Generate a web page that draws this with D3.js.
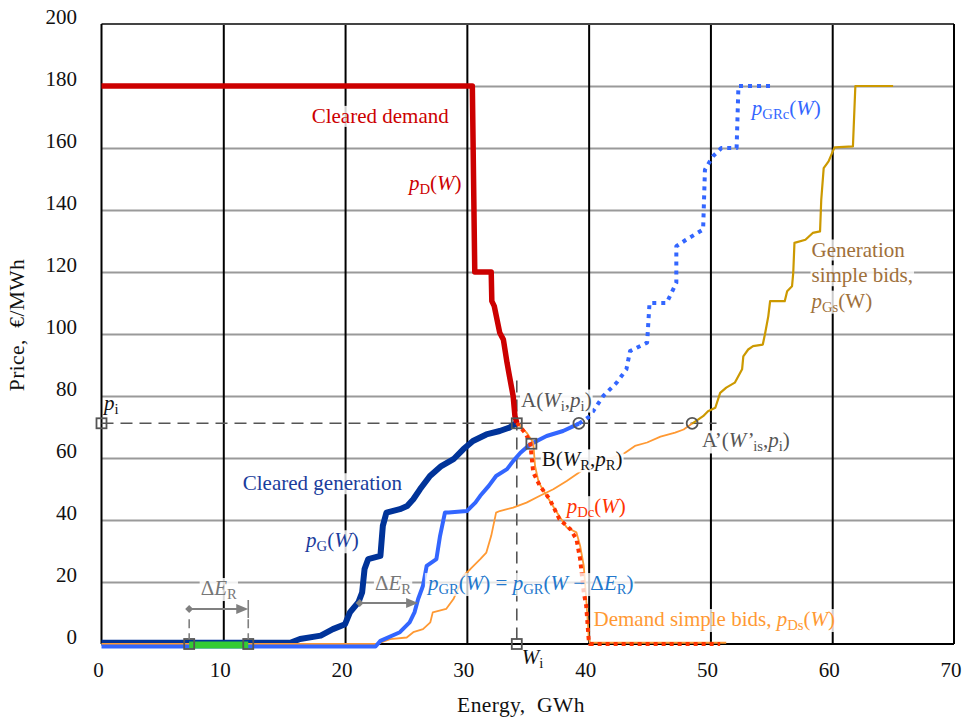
<!DOCTYPE html>
<html><head><meta charset="utf-8">
<script src="https://cdn.jsdelivr.net/npm/d3@7"></script>
<style>body{margin:0;background:#fff}svg{font-family:"Liberation Serif","Times New Roman",serif}</style>
</head><body><svg id="c" width="970" height="718"></svg>
<script>
// ---------- data ----------
const energyTicks = [0,10,20,30,40,50,60,70];
const priceTicks = [0,20,40,60,80,100,120,140,160,180,200];

// Cleared demand p_D(W)
const clearedDemand = [[0,180],[30.45,180],[30.65,120],[32.0,120],[32.05,110.6],[32.25,109],[32.7,100.4],[33.0,98.2],[33.3,90.7],[33.5,86.4],[33.8,80],[33.95,73.5],[34.1,71.4]];
// Cleared generation p_G(W)
const clearedGeneration = [[0,0.4],[15.5,0.4],[16.3,1.6],[18.0,2.7],[19.0,4.8],[20.0,6.4],[20.4,10.2],[21.1,13.5],[21.4,16.6],[21.6,24.2],[21.9,27.4],[22.9,28.4],[23.1,38.1],[23.4,42.4],[24.5,43.5],[25.1,44.5],[25.6,46.7],[26.15,49.9],[26.97,54.2],[27.9,57.4],[28.9,59.6],[29.7,62.8],[30.5,65.5],[31.6,67.6],[32.7,68.7],[33.5,69.8],[34.1,71.4]];
// Shifted generation p_GR(W)
const shiftedGeneration = [[0,-0.8],[22.5,-0.8],[22.9,1],[24.5,3.8],[25.3,7],[25.7,10.2],[26.0,14.5],[26.4,18.8],[26.7,25.2],[27.5,27.4],[27.8,34.9],[28.2,42.4],[28.5,42.4],[30.0,42.9],[30.7,45.6],[31.1,47.8],[31.8,51],[32.4,54.2],[33.3,56.4],[33.8,59],[34.4,61.7],[35.2,64.4],[36.55,67.1],[37.9,68.7],[39.2,71.1]];
// Continuation p_GRc(W)
const shiftedGenerationCont = [[39.2,71.1],[40.1,73.5],[41.2,80],[42.3,84.3],[43.1,88.6],[43.4,94.5],[44.8,97.2],[45.0,110],[46.4,110],[47.2,116.5],[47.2,128.3],[48.0,130.4],[49.4,133.7],[49.55,153],[50.2,157.3],[50.9,160],[52.15,160],[52.3,180],[55.2,180]];
// Generation simple bids p_Gs(W): part below p_i, part above
const genSimpleLow = [[0,0],[22.6,0],[23.7,1.6],[25.06,2.1],[25.6,3.8],[26.4,4.8],[27.0,7],[27.2,10.2],[28.3,11.3],[28.9,14.5],[29.4,18.8],[29.7,22],[30.3,24.2],[31.1,27.4],[31.6,29.5],[32.0,34.9],[32.4,42.4],[32.7,42.9],[33.8,44],[34.9,45.6],[36.0,47.8],[37.1,49.9],[38.2,52.6],[39.6,56.4],[40.1,57.4],[43.0,61.7],[43.8,63.9],[44.8,65],[45.9,66.9],[47.1,68.2],[47.8,69.2],[48.5,71.1]];
const genSimpleHigh = [[48.5,71.1],[49.4,73.5],[49.8,75.1],[50.4,76.2],[50.8,81],[51.3,82.7],[52.0,84.3],[52.6,88.6],[52.7,92.8],[53.1,95],[53.5,96.1],[54.3,96.6],[54.5,100.4],[54.75,105.7],[54.9,110.6],[56.1,110.6],[56.3,113.8],[56.7,115.4],[56.8,119.7],[56.9,129.4],[57.8,130.4],[58.4,132.6],[59.0,133.1],[59.1,143.3],[59.3,153.5],[59.7,155.7],[60.1,159.4],[60.2,160.2],[61.7,160.5],[61.9,180],[65.0,180]];
// Demand simple bids p_Ds(W)
const demandSimple = [[34.1,71.4],[34.9,68.2],[35.45,65],[35.6,57.4],[35.9,52.1],[36.55,47.8],[37.4,42.4],[38.2,37.6],[39.0,36],[39.3,31.7],[39.6,25.2],[39.8,14.5],[40.0,2.7],[40.1,0.4],[51.3,0.4]];
// Demand continuation p_Dc(W)
const demandCont = [[34.1,71.4],[34.8,68],[35.2,65],[35.45,55.3],[36.0,51],[36.8,46.7],[37.6,40.3],[38.5,37],[39.0,33.8],[39.3,27.4],[39.6,16.6],[39.8,12.3],[40.0,1.6],[40.1,0],[50.8,0]];

const deltaER = [7.2, 12.05];          // shift interval
const shiftArrow = [21.2, 26.0];       // arrow from p_G to p_GR
const pointA = [34.1, 71.2];
const pointB = [35.3, 64.6];
const pointC = [39.2, 71.2];
const pointA2 = [48.5, 71.2];
const pI = 71.2;

// ---------- drawing ----------
const svg = d3.select("#c");
const x = d3.scaleLinear().domain([0,70]).range([101.5,954]);
const y = d3.scaleLinear().domain([0,200]).range([644,24]);
const line = d3.line().x(d=>x(d[0])).y(d=>y(d[1]));
const FS = 21;

// horizontal gridlines
svg.append("g").attr("transform",`translate(${x(0)},0)`)
  .call(d3.axisLeft(y).tickValues(priceTicks.filter(v=>v>0&&v<200)).tickSize(-(x(70)-x(0))).tickFormat(""))
  .call(g=>g.select(".domain").remove())
  .call(g=>g.selectAll("line").attr("stroke","#9a9a9a").attr("stroke-width",2));
// vertical gridlines
svg.append("g").attr("transform",`translate(0,${y(0)})`)
  .call(d3.axisBottom(x).tickValues(energyTicks.filter(v=>v>0&&v<70)).tickSize(-(y(0)-y(200))).tickFormat(""))
  .call(g=>g.select(".domain").remove())
  .call(g=>g.selectAll("line").attr("stroke","#000").attr("stroke-width",2));
// frame
svg.append("line").attr("x1",x(0)).attr("x2",x(70)).attr("y1",y(200)).attr("y2",y(200)).attr("stroke","#444").attr("stroke-width",2);
svg.append("line").attr("x1",x(70)).attr("x2",x(70)).attr("y1",y(200)).attr("y2",y(0)).attr("stroke","#000").attr("stroke-width",2);
svg.append("line").attr("x1",x(0)).attr("x2",x(0)).attr("y1",y(200)).attr("y2",y(0)).attr("stroke","#000").attr("stroke-width",2);
svg.append("line").attr("x1",x(0)).attr("x2",x(70)).attr("y1",y(0)).attr("y2",y(0)).attr("stroke","#000").attr("stroke-width",2);

// tick labels
svg.append("g").selectAll("text").data(priceTicks).join("text")
  .attr("x",77).attr("y",d=>y(d)-7).attr("dy","0.35em").attr("text-anchor","end")
  .attr("font-size",FS).attr("fill","#111").text(d=>d);
svg.append("g").selectAll("text").data(energyTicks).join("text")
  .attr("x",d=>x(d)-3).attr("y",677).attr("text-anchor","middle")
  .attr("font-size",FS).attr("fill","#111").text(d=>d);
// axis titles
svg.append("text").attr("x",521).attr("y",712).attr("text-anchor","middle").attr("font-size",21.5).attr("fill","#111")
  .attr("xml:space","preserve").attr("letter-spacing",0.4).text("Energy,  GWh");
svg.append("text").attr("transform","translate(24,325) rotate(-90)").attr("text-anchor","middle").attr("font-size",21.5).attr("fill","#111")
  .attr("xml:space","preserve").attr("letter-spacing",0.4).text("Price,  €/MWh");

// dashed guides
const dashC = "#555";
svg.append("line").attr("x1",x(0)).attr("x2",x(50.5)).attr("y1",y(pI)).attr("y2",y(pI))
  .attr("stroke",dashC).attr("stroke-width",1.6).attr("stroke-dasharray","12,7");
svg.append("line").attr("x1",x(pointA[0])).attr("x2",x(pointA[0])).attr("y1",y(85)).attr("y2",y(0))
  .attr("stroke",dashC).attr("stroke-width",1.6).attr("stroke-dasharray","12,7");

// curves
function path(data, color, width, dash){
  const p = svg.append("path").datum(data).attr("d",line).attr("fill","none")
    .attr("stroke",color).attr("stroke-width",width).attr("stroke-linejoin","round");
  if(dash) p.attr("stroke-dasharray",dash).attr("stroke-linecap","butt");
  return p;
}
path(clearedGeneration, "#003399", 6);
path(genSimpleLow, "#ff9933", 1.8);
path(genSimpleHigh, "#cc9900", 2.2);
path(shiftedGeneration, "#3366ff", 4);
path(shiftedGenerationCont, "#3366ff", 4, "4,5");
path(demandSimple, "#ff9933", 1.8);
path(demandCont, "#ff3300", 4, "4,4");
path(clearedDemand, "#cc0000", 5.5);
// green delta E segment
svg.append("line").attr("x1",x(deltaER[0])).attr("x2",x(deltaER[1])).attr("y1",y(-0.3)).attr("y2",y(-0.3))
  .attr("stroke","#33cc33").attr("stroke-width",7);

// markers
function square(px,py){
  svg.append("rect").attr("x",px-5).attr("y",py-5).attr("width",10).attr("height",10)
    .attr("fill","none").attr("stroke","#555").attr("stroke-width",1.8);
}
function circle(px,py){
  svg.append("circle").attr("cx",px).attr("cy",py).attr("r",5.5)
    .attr("fill","none").attr("stroke","#555").attr("stroke-width",1.8);
}
square(x(0),y(pI));
square(x(pointA[0]),y(pointA[1]));
square(x(pointB[0]),y(pointB[1]));
square(x(pointA[0]),y(0));
circle(x(pointC[0]),y(pointC[1]));
circle(x(pointA2[0]),y(pointA2[1]));
square(x(deltaER[0]),y(0));
square(x(deltaER[1]),y(0));

// delta E arrows
const gray = "#808080";
function arrow(w0,w1,p,bar){
  const X0=x(w0), X1=x(w1), Y=y(p);
  svg.append("line").attr("x1",X0).attr("x2",X1-8).attr("y1",Y).attr("y2",Y).attr("stroke",gray).attr("stroke-width",2);
  svg.append("path").attr("d",`M${X0-4},${Y}L${X0},${Y-4}L${X0+4},${Y}L${X0},${Y+4}Z`).attr("fill",gray);
  svg.append("path").attr("d",`M${X1},${Y}L${X1-12},${Y-5}L${X1-12},${Y+5}Z`).attr("fill",gray);
  if(bar) svg.append("line").attr("x1",X1).attr("x2",X1).attr("y1",Y-9).attr("y2",Y+9).attr("stroke",gray).attr("stroke-width",1.6);
}
arrow(deltaER[0],deltaER[1],11.3,true);
[deltaER[0],deltaER[1]].forEach(w=>{
  svg.append("line").attr("x1",x(w)).attr("x2",x(w)).attr("y1",y(8)).attr("y2",y(1.5))
    .attr("stroke",gray).attr("stroke-width",1.6).attr("stroke-dasharray","9,5");
});
arrow(shiftArrow[0],shiftArrow[1],13.2,false);

// rich labels
function rich(w,p,parts,color,opts={}){
  const g = svg.append("g");
  const t = g.append("text").attr("x",x(w)).attr("y",y(p)).attr("font-size",opts.size||FS).attr("fill",color)
    .attr("text-anchor",opts.anchor||"start");
  let shifted=false;
  parts.forEach(([s,st])=>{
    const ts = t.append("tspan").text(s);
    if(st.includes("i")) ts.attr("font-style","italic");
    if(st.includes("s")){ ts.attr("font-size","0.7em"); if(!shifted){ts.attr("dy",4);shifted=true;} }
    else if(shifted){ ts.attr("dy",-4); shifted=false; }
  });
  if(opts.bg){
    const b = t.node().getBBox();
    g.insert("rect","text").attr("x",b.x-1).attr("y",b.y+2).attr("width",b.width+2).attr("height",b.height-3)
      .attr("fill","#fff").attr("opacity",opts.bg);
  }
  return t;
}
rich(17.26,168.1,[["Cleared demand",""]],"#cc0000",{bg:0.8});
rich(25.25,146.5,[["p","i"],["D","s"],["(",""],["W","i"],[")",""]],"#cc0000");
rich(53.4,170.7,[["p","i"],["GRc","s"],["(",""],["W","i"],[")",""]],"#3366ff");
rich(58.3,125,[["Generation",""]],"#a0703a",{bg:0.8});
rich(58.3,116.7,[["simple bids,",""]],"#a0703a",{bg:0.8});
rich(58.3,108.5,[["p","i"],["Gs","s"],["(W)",""]],"#a0703a",{bg:0.8});
rich(34.45,76.6,[["A(",""],["W","i"],["i","s"],[",",""],["p","i"],["i","s"],[")",""]],"#555",{bg:0.9});
rich(36.15,57.3,[["B(",""],["W","i"],["R","s"],[",",""],["p","i"],["R","s"],[")",""]],"#111",{bg:0.9});
rich(49.3,63.4,[["A’(",""],["W’","i"],["is","s"],[",",""],["p","i"],["i","s"],[")",""]],"#555",{bg:0.9});
rich(38.2,42.2,[["p","i"],["Dc","s"],["(",""],["W","i"],[")",""]],"#ff3300",{bg:0.8});
rich(40.4,5.8,[["Demand simple bids, ",""],["p","i"],["Ds","s"],["(",""],["W","i"],[")",""]],"#ff9933",{bg:0.8});
rich(11.6,49.6,[["Cleared generation",""]],"#1a3c9c",{bg:0.8});
rich(16.8,31.2,[["p","i"],["G","s"],["(",""],["W","i"],[")",""]],"#1a3c9c",{bg:0.8});
rich(22.45,17.4,[["Δ",""],["E","i"],["R","s"]],"#777",{bg:0.85});
rich(26.8,17.4,[["p","i"],["GR","s"],["(",""],["W","i"],[") = ",""],["p","i"],["GR","s"],["(",""],["W","i"],[" − Δ",""],["E","i"],["R","s"],[")",""]],"#2277cc",{bg:0.75});
rich((deltaER[0]+deltaER[1])/2,15.8,[["Δ",""],["E","i"],["R","s"]],"#777",{bg:0.85,anchor:"middle"});
rich(0.2,75.4,[["p","i"],["i","s"]],"#111");
rich(34.5,-6.4,[["W","i"],["i","s"]],"#111");
</script></body></html>
